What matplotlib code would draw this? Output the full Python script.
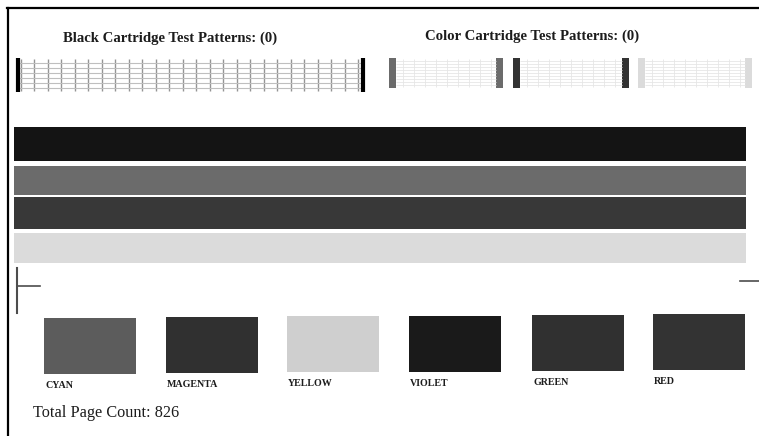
import numpy as np
import matplotlib
matplotlib.use("Agg")
import matplotlib.pyplot as plt

# gray levels (0 = black, 1 = white)
strip_gray = [0.08, 0.42, 0.22, 0.86]
swatch_names = ["CYAN", "MAGENTA", "YELLOW", "VIOLET", "GREEN", "RED"]
swatch_gray = [0.36, 0.19, 0.81, 0.10, 0.19, 0.20]
pattern_edge_gray = [0.42, 0.20, 0.86]
pattern_titles = ["Black Cartridge Test Patterns: (0)", "Color Cartridge Test Patterns: (0)"]
page_count = 826

W, H = 759, 436
fig = plt.figure(figsize=(W / 100, H / 100), dpi=100)
ax = fig.add_axes([0, 0, 1, 1])
ax.set_xlim(0, W)
ax.set_ylim(H, 0)
ax.axis("off")
serif = ["Liberation Serif", "DejaVu Serif"]
ink = "#1c1c1c"

# page border (top + left, as scanned)
ax.plot([7, W], [8, 8], color="black", lw=1.6)
ax.plot([7.5, 7.5], [8, H], color="black", lw=1.6)

# titles
ax.text(63, 38, pattern_titles[0], family=serif, fontsize=10.6, weight="bold",
        color=ink, va="center")
ax.text(425, 36, pattern_titles[1], family=serif, fontsize=10.6, weight="bold",
        color=ink, va="center")

# black cartridge grid
gx = np.linspace(21, 358, 26)
ax.vlines(gx, 59, 91, color="0.58", lw=1.0)
ax.hlines(np.arange(63, 90, 5), 18, 361, color="0.75", lw=0.8)
ax.vlines([17.5, 362.5], 58, 92, color="black", lw=3)

# color cartridge blocks
block_x = [389, 513, 638]
block_w = [114, 116, 114]
for x0, bw, g in zip(block_x, block_w, pattern_edge_gray):
    ax.hlines(np.arange(61, 88, 3), x0 + 7, x0 + bw - 7, color="0.9", lw=0.6)
    ax.vlines(np.arange(x0 + 14, x0 + bw - 7, 11), 59, 87, color="0.9", lw=0.6)
    ax.bar([x0 + 3.5, x0 + bw - 3.5], 30, bottom=58, width=7, color=str(g))

# solid strips
strip_top = [127, 166, 197, 233]
strip_h = [34, 29, 32, 30]
ax.barh([t + h / 2 for t, h in zip(strip_top, strip_h)], 732, left=14,
        height=strip_h, color=[str(g) for g in strip_gray])

# alignment marks
ax.plot([17, 17], [268, 313], color="0.3", lw=1.5)
ax.plot([17, 40], [286, 286], color="0.3", lw=1.2)
ax.plot([740, W], [281, 281], color="0.3", lw=1.2)

# color swatches
sw_left = [44, 166, 287, 409, 532, 653]
sw_top = [318, 317, 316, 316, 315, 314]
for i, (name, g) in enumerate(zip(swatch_names, swatch_gray)):
    ax.bar(sw_left[i] + 46, 56, bottom=sw_top[i], width=92, color=str(g))
    ax.text(sw_left[i] + 1, sw_top[i] + 67, name, family=serif, fontsize=7.2,
            weight="bold", color=ink, va="center")

ax.text(33, 413, f"Total Page Count: {page_count}", family=serif, fontsize=11.7,
        color=ink, va="center")

fig.savefig("out.png", dpi=100, facecolor="white")
